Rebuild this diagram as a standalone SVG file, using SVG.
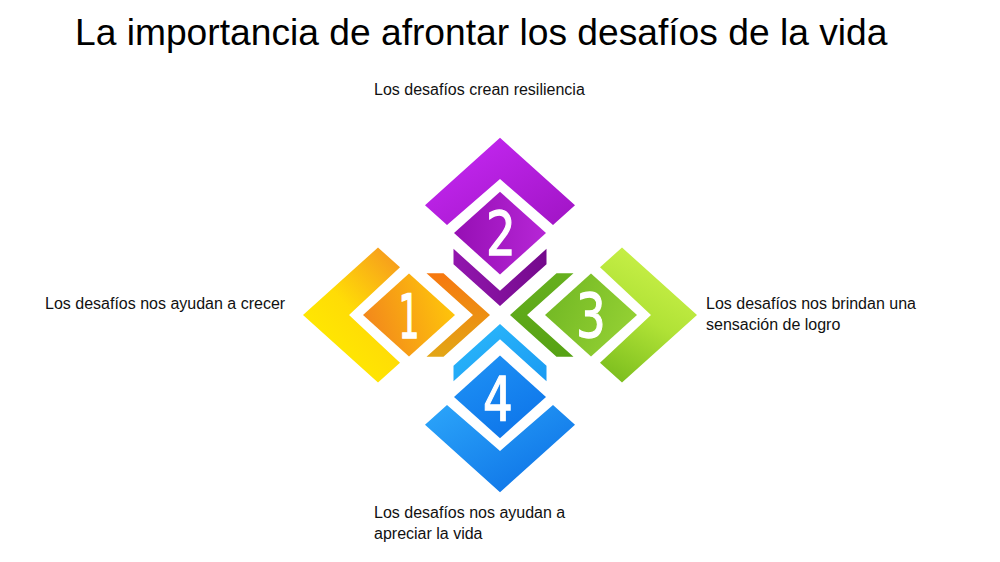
<svg xmlns="http://www.w3.org/2000/svg" width="1000" height="562" viewBox="0 0 1000 562">
<style>
.lbl{font-family:"Liberation Sans",Arial,sans-serif;font-size:16px;fill:#111}
.ttl{font-family:"Liberation Sans",Arial,sans-serif;font-size:37.2px;fill:#000}
.num{font-family:"DejaVu Sans",sans-serif;font-weight:normal;font-size:60px;fill:#fff;stroke:#fff;stroke-width:1.3;text-anchor:middle}
</style>
<defs>
<linearGradient id="y1" x1="0.8" y1="0" x2="0.2" y2="0.8"><stop offset="0" stop-color="#F7A01C"/><stop offset="0.55" stop-color="#FFDC06"/><stop offset="1" stop-color="#FFEA00"/></linearGradient>
<linearGradient id="y2" x1="0" y1="0.6" x2="1" y2="0.3"><stop offset="0" stop-color="#F2861C"/><stop offset="1" stop-color="#FFC80A"/></linearGradient>
<linearGradient id="y3" x1="0" y1="0" x2="0" y2="1"><stop offset="0" stop-color="#F7780F"/><stop offset="1" stop-color="#E2A616"/></linearGradient>
<linearGradient id="p1" x1="0" y1="0" x2="1" y2="1"><stop offset="0" stop-color="#C82AF7"/><stop offset="1" stop-color="#A014C4"/></linearGradient>
<linearGradient id="p2" x1="0" y1="0.5" x2="1" y2="0.5"><stop offset="0" stop-color="#960FB4"/><stop offset="1" stop-color="#B626D6"/></linearGradient>
<linearGradient id="p3" x1="0" y1="0.5" x2="1" y2="0.5"><stop offset="0" stop-color="#9216AE"/><stop offset="1" stop-color="#740A8C"/></linearGradient>
<linearGradient id="g1" x1="0.6" y1="0" x2="0.2" y2="1"><stop offset="0" stop-color="#CCF24A"/><stop offset="0.5" stop-color="#B0E236"/><stop offset="1" stop-color="#7CBE1E"/></linearGradient>
<linearGradient id="g2" x1="0" y1="0.3" x2="1" y2="0.7"><stop offset="0" stop-color="#72B824"/><stop offset="1" stop-color="#96D234"/></linearGradient>
<linearGradient id="g3" x1="0" y1="0" x2="0" y2="1"><stop offset="0" stop-color="#66B01E"/><stop offset="1" stop-color="#56A214"/></linearGradient>
<linearGradient id="b1" x1="0" y1="0" x2="1" y2="1"><stop offset="0" stop-color="#2CA6FA"/><stop offset="1" stop-color="#0A6CE4"/></linearGradient>
<linearGradient id="b2" x1="0" y1="0" x2="0.6" y2="1"><stop offset="0" stop-color="#2094F6"/><stop offset="1" stop-color="#0E76EA"/></linearGradient>
<linearGradient id="b3" x1="0" y1="0" x2="1" y2="1"><stop offset="0" stop-color="#2CBAFC"/><stop offset="1" stop-color="#1A9AF2"/></linearGradient>
</defs>
<rect width="1000" height="562" fill="#fff"/>
<text class="ttl" x="75" y="45">La importancia de afrontar los desafíos de la vida</text>

<g id="node-1">
<g transform="translate(500 315) scale(1 0.9)">
<polygon fill="url(#y1)" points="-122,-75 -197,0 -122,75 -100,53 -151,0 -100,-53"/>
<polygon fill="url(#y2)" points="-137,0 -91,-46 -45,0 -91,46"/>
<polygon fill="url(#y3)" points="-73.5,-46.5 -56.5,-46.5 -10,0 -56.5,46.5 -73.5,46.5 -27,0"/>
</g>
<text class="num" transform="translate(409 338) scale(0.55 1)">1</text>
<text class="lbl" x="45" y="309">Los desafíos nos ayudan a crecer</text>
</g>

<g id="node-2">
<g transform="translate(500 315) scale(1 0.9)">
<polygon fill="url(#p1)" points="-75,-122 0,-197 75,-122 53,-100 0,-151 -53,-100"/>
<polygon fill="url(#p2)" points="0,-137 46,-91 0,-45 -46,-91"/>
<polygon fill="url(#p3)" points="-46.5,-73.5 -46.5,-56.5 0,-10 46.5,-56.5 46.5,-73.5 0,-27"/>
</g>
<text class="num" transform="translate(501 255) scale(0.78 1)">2</text>
<text class="lbl" x="374" y="95">Los desafíos crean resiliencia</text>
</g>

<g id="node-3">
<g transform="translate(500 315) scale(1 0.9)">
<polygon fill="url(#g1)" points="122,-75 197,0 122,75 100,53 151,0 100,-53"/>
<polygon fill="url(#g2)" points="137,0 91,-46 45,0 91,46"/>
<polygon fill="url(#g3)" points="73.5,-46.5 56.5,-46.5 10,0 56.5,46.5 73.5,46.5 27,0"/>
</g>
<text class="num" transform="translate(591 337) scale(0.78 1)">3</text>
<text class="lbl" x="706" y="309">Los desafíos nos brindan una</text>
<text class="lbl" x="706" y="330">sensación de logro</text>
</g>

<g id="node-4">
<g transform="translate(500 315) scale(1 0.9)">
<polygon fill="url(#b1)" points="-75,122 0,197 75,122 53,100 0,151 -53,100"/>
<polygon fill="url(#b2)" points="0,137 46,91 0,45 -46,91"/>
<polygon fill="url(#b3)" points="-46.5,73.5 -46.5,56.5 0,10 46.5,56.5 46.5,73.5 0,27"/>
</g>
<text class="num" transform="translate(498 420) scale(0.78 1)">4</text>
<text class="lbl" x="374" y="518">Los desafíos nos ayudan a</text>
<text class="lbl" x="374" y="539">apreciar la vida</text>
</g>

<g id="connectors"/>
</svg>
